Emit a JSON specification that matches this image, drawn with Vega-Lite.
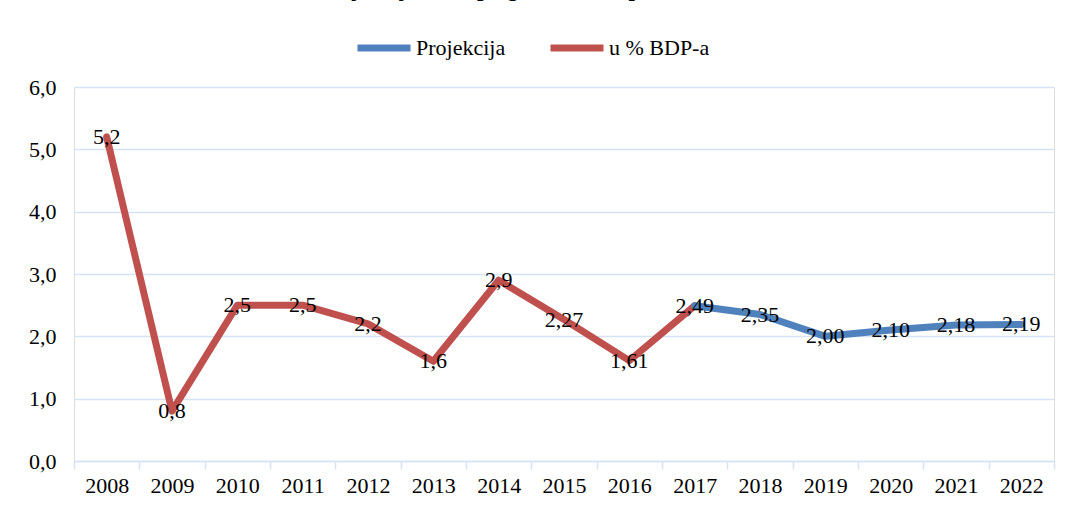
{
  "$schema": "https://vega.github.io/schema/vega-lite/v6.json",
  "autosize": {"type": "none"},
  "width": 980,
  "height": 374,
  "padding": {"left": 74, "top": 87, "right": 21, "bottom": 63},
  "background": "white",
  "config": {
    "font": "Liberation Serif",
    "legend": {"labelFont": "Liberation Serif", "labelFontSize": 22, "labelColor": "#000000", "labelFontWeight": "normal"}
  },
  "title": {
    "text": "Projekcija DSG po godinama u procentima BDP-a",
    "font": "Liberation Serif",
    "fontSize": 23,
    "fontWeight": "bold",
    "color": "#000000",
    "anchor": "middle",
    "frame": "group",
    "baseline": "alphabetic",
    "offset": -1
  },
  "data": {
    "values": [
      {"year": "2008", "value": 5.2, "series": "u % BDP-a", "label": "5,2"},
      {"year": "2009", "value": 0.8, "series": "u % BDP-a", "label": "0,8"},
      {"year": "2010", "value": 2.5, "series": "u % BDP-a", "label": "2,5"},
      {"year": "2011", "value": 2.5, "series": "u % BDP-a", "label": "2,5"},
      {"year": "2012", "value": 2.2, "series": "u % BDP-a", "label": "2,2"},
      {"year": "2013", "value": 1.6, "series": "u % BDP-a", "label": "1,6"},
      {"year": "2014", "value": 2.9, "series": "u % BDP-a", "label": "2,9"},
      {"year": "2015", "value": 2.27, "series": "u % BDP-a", "label": "2,27"},
      {"year": "2016", "value": 1.61, "series": "u % BDP-a", "label": "1,61"},
      {"year": "2017", "value": 2.49, "series": "u % BDP-a", "label": "2,49"},
      {"year": "2017", "value": 2.49, "series": "Projekcija", "label": ""},
      {"year": "2018", "value": 2.35, "series": "Projekcija", "label": "2,35"},
      {"year": "2019", "value": 2.0, "series": "Projekcija", "label": "2,00"},
      {"year": "2020", "value": 2.1, "series": "Projekcija", "label": "2,10"},
      {"year": "2021", "value": 2.18, "series": "Projekcija", "label": "2,18"},
      {"year": "2022", "value": 2.19, "series": "Projekcija", "label": "2,19"}
    ]
  },
  "encoding": {
    "x": {
      "field": "year",
      "type": "ordinal",
      "scale": {"type": "band", "paddingInner": 0, "paddingOuter": 0},
      "axis": {
        "title": null,
        "labelAngle": 0,
        "labelFont": "Liberation Serif",
        "labelFontSize": 22,
        "labelColor": "#000000",
        "labelPadding": 6,
        "tickBand": "extent",
        "tickSize": 8,
        "tickColor": "#d6e3f3",
        "tickWidth": 1.5,
        "domainColor": "#d6e3f3",
        "domainWidth": 1.5,
        "grid": false
      }
    },
    "y": {
      "field": "value",
      "type": "quantitative",
      "scale": {"domain": [0, 6], "nice": false, "zero": true},
      "axis": {
        "title": null,
        "values": [0, 1, 2, 3, 4, 5, 6],
        "labelExpr": "replace(format(datum.value, '.1f'), '.', ',')",
        "labelFont": "Liberation Serif",
        "labelFontSize": 22,
        "labelColor": "#000000",
        "labelPadding": 18,
        "ticks": false,
        "domain": false,
        "grid": true,
        "gridColor": "#d6e3f3",
        "gridWidth": 1.5
      }
    }
  },
  "layer": [
    {
      "mark": {"type": "line", "strokeWidth": 7, "strokeJoin": "round", "strokeCap": "round"},
      "encoding": {
        "color": {
          "field": "series",
          "type": "nominal",
          "scale": {"domain": ["Projekcija", "u % BDP-a"], "range": ["#4f81bd", "#c0504d"]},
          "legend": {
            "title": null,
            "orient": "none",
            "direction": "horizontal",
            "legendX": 280,
            "legendY": -69,
            "padding": 0,
            "symbolType": "stroke",
            "symbolSize": 2809,
            "symbolStrokeWidth": 7,
            "labelFont": "Liberation Serif",
            "labelFontSize": 22,
            "labelColor": "#000000",
            "labelOffset": 2,
            "columnPadding": 30
          }
        }
      }
    },
    {
      "mark": {"type": "text", "font": "Liberation Serif", "fontSize": 22, "color": "#000000", "align": "center", "baseline": "middle"},
      "encoding": {"text": {"field": "label"}}
    }
  ]
}
